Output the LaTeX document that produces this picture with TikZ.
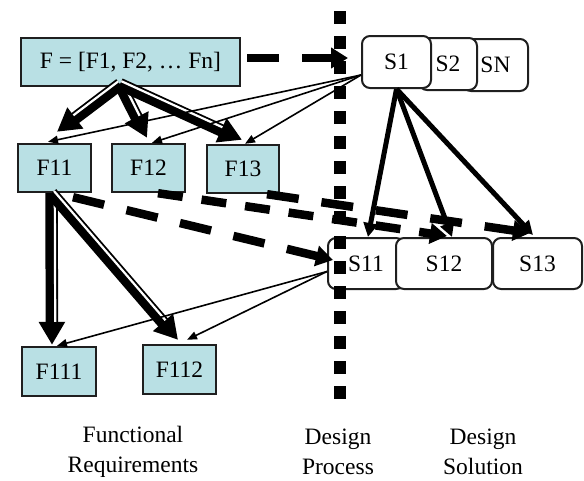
\documentclass[tikz,border=0pt]{standalone}
\usepackage{fontspec}
\setmainfont{Liberation Serif}
\usetikzlibrary{arrows.meta,calc}
\definecolor{reqfill}{RGB}{185,224,228}
\newcommand{\fatpair}[4]{%
  \draw[fat] (#1) -- (#2);
  \coordinate (s0) at ($(#1)!3.3pt!#3:(#2)$);
  \coordinate (s1) at ($(#2)!3.3pt!#4:(#1)$);
  \draw[stripe] (s0) -- ($(s1)!23pt!(s0)$);}

\begin{document}
\begin{tikzpicture}[x=1pt,y=-1pt,
  every node/.style={font=\fontsize{23.5}{30}\selectfont},
  r/.style={draw=black!88,line width=2.4pt,fill=reqfill,inner sep=0pt,minimum height=48pt},
  s/.style={draw=black!88,line width=2pt,fill=white,rounded corners=8pt,inner sep=0pt,minimum height=52pt},
  fat/.style={line width=12.5pt,-{Triangle[length=23pt,width=25pt]}},
  stripe/.style={white,line width=2.2pt},
  link/.style={line width=1.6pt,-{Triangle[length=10pt,width=8pt]}},
  push/.style={line width=5pt,-{Triangle[length=14pt,width=14pt]}},
  flow/.style={line width=8.5pt,dash pattern=on 32pt off 23pt,-{Triangle[length=17pt,width=20pt]}},
  sep/.style={line width=12.5pt,dash pattern=on 12.5pt off 12.5pt}]
  \useasboundingbox (0,0) rectangle (584,480);
  \node[r,minimum width=219pt] (F) at (130.5,62) {F = [F1, F2, … Fn]};
  \node[r,minimum width=73pt] (F11) at (54.5,168) {F11};
  \node[r,minimum width=73pt] (F12) at (148.5,168) {F12};
  \node[r,minimum width=72pt] (F13) at (243,169) {F13};
  \node[r,minimum width=74pt,minimum height=49pt] (F111) at (59,371.5) {F111};
  \node[r,minimum width=73pt,minimum height=49pt] (F112) at (179.5,369.5) {F112};
  \node[s,minimum width=65pt] (SN) at (495.5,65) {SN};
  \node[s,minimum width=58pt] (S2) at (448,64) {S2};
  \node[s,minimum width=69pt] (S1) at (396.5,62) {S1};
  \node[s,minimum width=76pt,minimum height=51pt] (S11) at (366,263.5) {S11};
  \node[s,minimum width=96pt,minimum height=51pt] (S12) at (444,263.5) {S12};
  \node[s,minimum width=89pt,minimum height=51pt] (S13) at (537.5,263.5) {S13};
  \draw[sep] (340,11) -- (340,400);
  \coordinate (fan) at ([xshift=-10.5pt,yshift=3pt]F.south);
  \coordinate (t11) at ([xshift=2.5pt,yshift=11pt]F11.north);
  \coordinate (t12) at ([xshift=-1.5pt,yshift=5pt]F12.north);
  \coordinate (t13) at ([xshift=-1pt,yshift=4pt]F13.north);
  \coordinate (split) at ([xshift=-3pt]F11.south);
  \coordinate (t111) at ([xshift=-7pt,yshift=1pt]F111.north);
  \coordinate (t112) at ([xshift=-1.5pt,yshift=4pt]F112.north);
  \fatpair{fan}{t11}{-90}{90}
  \fatpair{fan}{t12}{90}{-90}
  \fatpair{fan}{t13}{90}{-90}
  \fatpair{split}{t111}{90}{-90}
  \fatpair{split}{t112}{90}{-90}
  \draw[link] ([yshift=-13pt]S1.west) -- ([xshift=-6.5pt,yshift=1pt]F11.north);
  \draw[link] ([yshift=-13pt]S1.west) -- ([xshift=3.5pt]F12.north);
  \draw[link] ([yshift=-13pt]S1.west) -- ([xshift=2pt]F13.north);
  \draw[link] ([yshift=-8pt]S11.west) -- ([xshift=-2pt]F111.north);
  \draw[link] ([yshift=-8pt]S11.west) -- ([xshift=7.5pt,yshift=4pt]F112.north);
  \draw[push] (S1.south) -- ([xshift=2pt]S11.north);
  \draw[push] (S1.south) -- ([xshift=8pt]S12.north);
  \draw[push] (S1.south) -- ([xshift=-4.5pt,yshift=2pt]S13.north);
  \draw[flow] ([xshift=6pt,yshift=4pt]F.east) -- ([xshift=-13pt,yshift=4pt]S1.west);
  \draw[flow] ([xshift=18.5pt,yshift=-4pt]F11.south) -- ([xshift=6pt,yshift=3.5pt]S11.west);
  \draw[flow,dash pattern=on 25pt off 19pt] ([xshift=9.5pt]F12.south) -- ([xshift=3pt,yshift=1pt]S12.north);
  \draw[flow] ([xshift=24pt]F13.south) -- ([xshift=-7.5pt,yshift=4pt]S13.north);
  \node[align=center] (fr) at (133,452) {Functional\\Requirements};
  \node[align=center] (dp) at (338,452) {Design\\Process};
  \node[align=center] (ds) at (483,452) {Design\\Solution};
\end{tikzpicture}
\end{document}
